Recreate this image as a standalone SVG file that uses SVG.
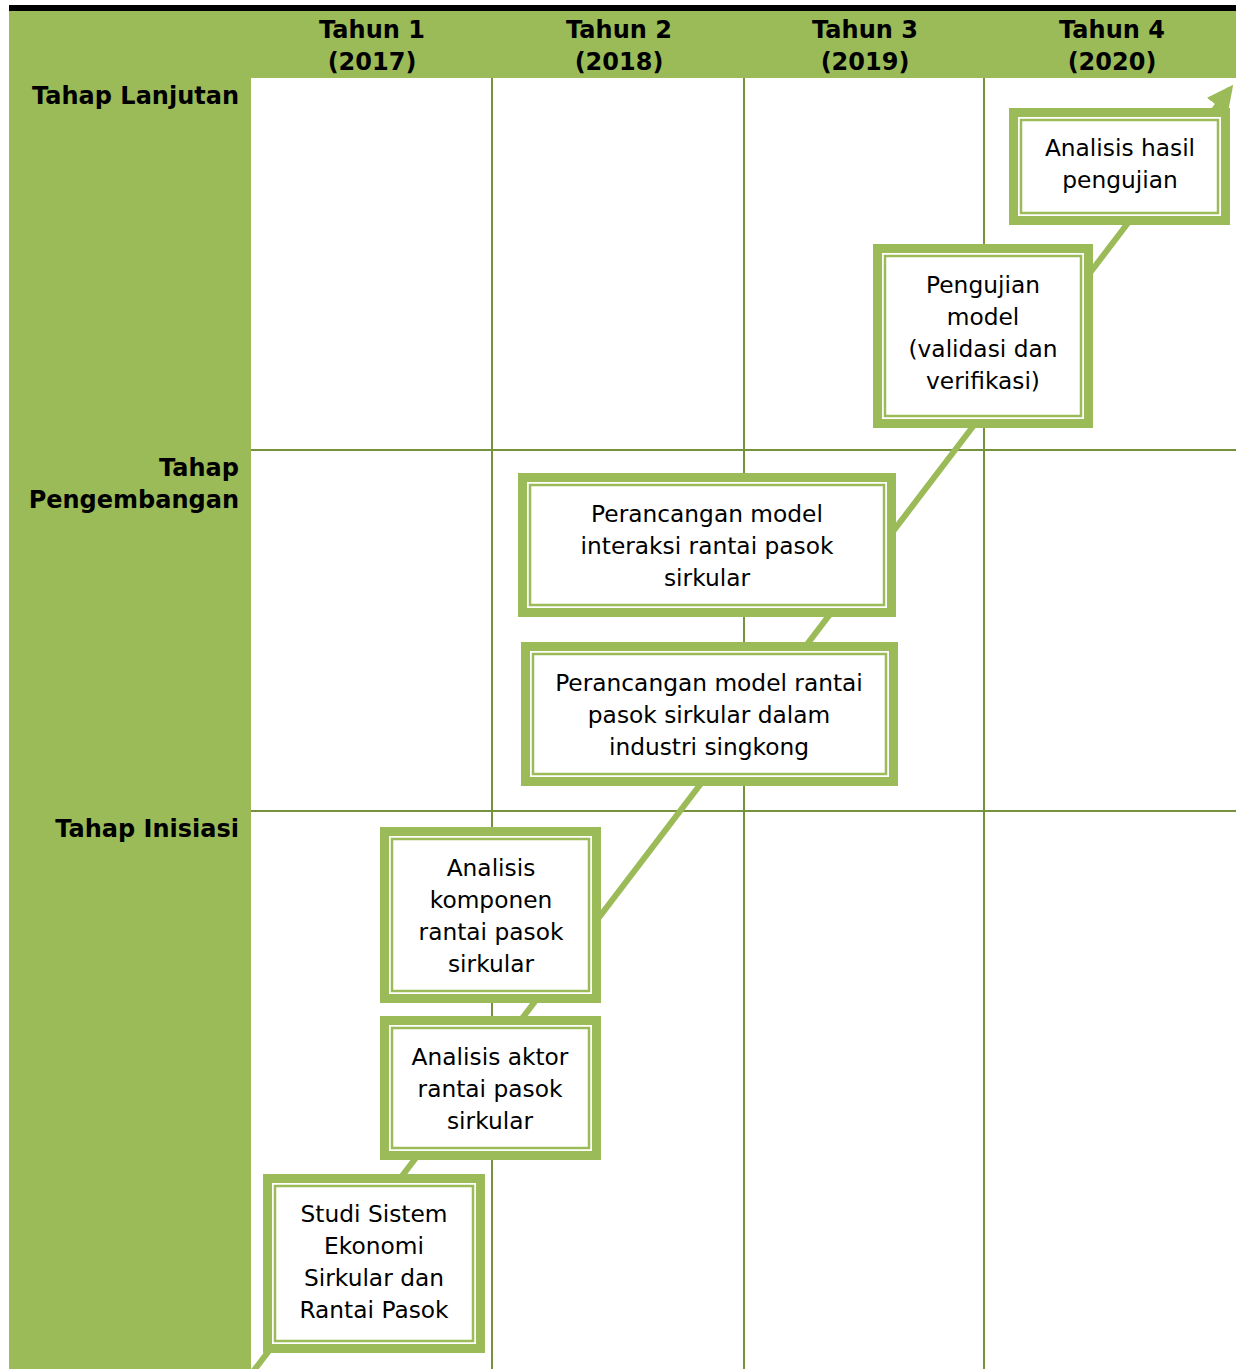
<svg xmlns="http://www.w3.org/2000/svg" width="1236" height="1369" viewBox="0 0 1236 1369">
  <style>
    .band { fill: #9BBB59; }
    .grid { stroke: #76923C; stroke-width: 2; fill: none; }
    .outer { fill: #9BBB59; }
    .inner { fill: #FFFFFF; }
    .rule { fill: none; stroke: #9BBB59; stroke-width: 2.5; }
    .head { font-family: "DejaVu Sans", "Liberation Sans", sans-serif; font-weight: bold; font-size: 24px; fill: #000; }
    .lbl { font-family: "DejaVu Sans", "Liberation Sans", sans-serif; font-size: 23.3px; fill: #000; text-anchor: middle; }
    .flow { stroke: #9BBB59; stroke-width: 6; fill: none; }
  </style>
  <defs>
    <marker id="arrow" viewBox="0 0 10 10" refX="8" refY="5" markerWidth="4.4" markerHeight="4.4" orient="auto" markerUnits="strokeWidth">
      <path d="M0,0 L10,5 L0,10 z" fill="#9BBB59"/>
    </marker>
  </defs>

  <rect width="1236" height="1369" fill="#FFFFFF"/>

  <!-- frame: header band, stage column, top rule -->
  <g id="frame">
    <rect class="band" x="9" y="10" width="1227" height="68"/>
    <rect class="band" x="9" y="10" width="242" height="1359"/>
    <rect x="9" y="5" width="1227" height="6" fill="#000"/>
  </g>

  <!-- year and stage headings -->
  <g id="headings" class="head">
    <text x="372" y="38" text-anchor="middle">Tahun 1</text>
    <text x="372" y="70" text-anchor="middle">(2017)</text>
    <text x="619" y="38" text-anchor="middle">Tahun 2</text>
    <text x="619" y="70" text-anchor="middle">(2018)</text>
    <text x="865" y="38" text-anchor="middle">Tahun 3</text>
    <text x="865" y="70" text-anchor="middle">(2019)</text>
    <text x="1112" y="38" text-anchor="middle">Tahun 4</text>
    <text x="1112" y="70" text-anchor="middle">(2020)</text>
    <text x="239" y="104" text-anchor="end">Tahap Lanjutan</text>
    <text x="239" y="476" text-anchor="end">Tahap</text>
    <text x="239" y="508" text-anchor="end">Pengembangan</text>
    <text x="239" y="837" text-anchor="end">Tahap Inisiasi</text>
  </g>

  <!-- table rules -->
  <g id="grid" class="grid">
    <line x1="492" y1="78" x2="492" y2="1369"/>
    <line x1="744" y1="78" x2="744" y2="1369"/>
    <line x1="984" y1="78" x2="984" y2="1369"/>
    <line x1="251" y1="450" x2="1236" y2="450"/>
    <line x1="251" y1="811" x2="1236" y2="811"/>
  </g>

  <!-- progression arrow -->
  <g id="connectors">
    <line class="flow" x1="252" y1="1373" x2="1230" y2="89" marker-end="url(#arrow)"/>
  </g>

  <g id="node-studi">
    <rect class="outer" x="263" y="1174" width="222" height="179"/>
    <rect class="inner" x="272" y="1183" width="204" height="161"/>
    <rect class="rule" x="275" y="1186" width="198" height="155"/>
    <text class="lbl"><tspan x="374" y="1222">Studi Sistem</tspan><tspan x="374" y="1254">Ekonomi</tspan><tspan x="374" y="1286">Sirkular dan</tspan><tspan x="374" y="1318">Rantai Pasok</tspan></text>
  </g>

  <g id="node-aktor">
    <rect class="outer" x="380" y="1016" width="221" height="144"/>
    <rect class="inner" x="389" y="1025" width="203" height="126"/>
    <rect class="rule" x="392" y="1028" width="197" height="120"/>
    <text class="lbl"><tspan x="490" y="1065">Analisis aktor</tspan><tspan x="490" y="1097">rantai pasok</tspan><tspan x="490" y="1129">sirkular</tspan></text>
  </g>

  <g id="node-komponen">
    <rect class="outer" x="380" y="827" width="221" height="176"/>
    <rect class="inner" x="389" y="836" width="203" height="158"/>
    <rect class="rule" x="392" y="839" width="197" height="152"/>
    <text class="lbl"><tspan x="491" y="876">Analisis</tspan><tspan x="491" y="908">komponen</tspan><tspan x="491" y="940">rantai pasok</tspan><tspan x="491" y="972">sirkular</tspan></text>
  </g>

  <g id="node-rantai">
    <rect class="outer" x="521" y="642" width="377" height="144"/>
    <rect class="inner" x="530" y="651" width="359" height="126"/>
    <rect class="rule" x="533" y="654" width="353" height="120"/>
    <text class="lbl"><tspan x="709" y="691">Perancangan model rantai</tspan><tspan x="709" y="723">pasok sirkular dalam</tspan><tspan x="709" y="755">industri singkong</tspan></text>
  </g>

  <g id="node-interaksi">
    <rect class="outer" x="518" y="473" width="378" height="144"/>
    <rect class="inner" x="527" y="482" width="360" height="126"/>
    <rect class="rule" x="530" y="485" width="354" height="120"/>
    <text class="lbl"><tspan x="707" y="522">Perancangan model</tspan><tspan x="707" y="554">interaksi rantai pasok</tspan><tspan x="707" y="586">sirkular</tspan></text>
  </g>

  <g id="node-pengujian">
    <rect class="outer" x="873" y="244" width="220" height="184"/>
    <rect class="inner" x="882" y="253" width="202" height="166"/>
    <rect class="rule" x="885" y="256" width="196" height="160"/>
    <text class="lbl"><tspan x="983" y="293">Pengujian</tspan><tspan x="983" y="325">model</tspan><tspan x="983" y="357">(validasi dan</tspan><tspan x="983" y="389">verifikasi)</tspan></text>
  </g>

  <g id="node-analisis-hasil">
    <rect class="outer" x="1009" y="108" width="221" height="117"/>
    <rect class="inner" x="1018" y="117" width="203" height="99"/>
    <rect class="rule" x="1021" y="120" width="197" height="93"/>
    <text class="lbl"><tspan x="1120" y="156">Analisis hasil</tspan><tspan x="1120" y="188">pengujian</tspan></text>
  </g>
</svg>
